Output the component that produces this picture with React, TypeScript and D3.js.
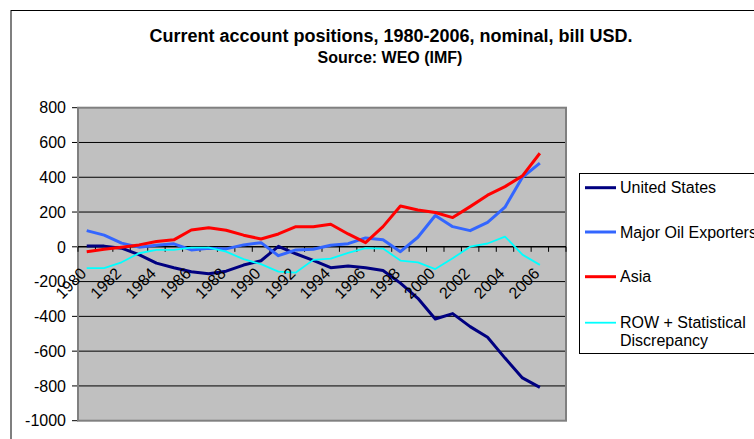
import React from 'react';
import * as d3 from 'd3';

// categories on the x axis (2007 is an empty slot, as in the original sheet)
const years = [
  '1980', '1981', '1982', '1983', '1984', '1985', '1986', '1987', '1988', '1989',
  '1990', '1991', '1992', '1993', '1994', '1995', '1996', '1997', '1998', '1999',
  '2000', '2001', '2002', '2003', '2004', '2005', '2006', '2007',
];
const yearLabels = ['1980', '1982', '1984', '1986', '1988', '1990', '1992', '1994', '1996', '1998', '2000', '2002', '2004', '2006'];
const yTicks = [800, 600, 400, 200, 0, -200, -400, -600, -800, -1000];

// current account balance, bill USD, 1980..2006
const unitedStates = [4, 4, -8, -45, -94, -120, -143, -155, -140, -105, -80, 3, -40, -78, -120, -110, -120, -136, -209, -296, -415, -384, -459, -520, -640, -754, -808];
const oilExporters = [93, 67, 21, -2, 9, 17, -18, -8, -12, 11, 24, -51, -18, -14, 9, 18, 51, 40, -28, 55, 180, 116, 93, 141, 228, 400, 481];
const asia = [-28, -14, -2, 11, 30, 40, 97, 110, 95, 67, 45, 74, 116, 116, 130, 74, 24, 116, 235, 212, 197, 168, 231, 297, 346, 408, 538];
const rowDiscrepancy = [-123, -123, -89, -37, -18, -18, -5, -5, -28, -71, -100, -143, -148, -75, -68, -35, -8, -10, -79, -90, -128, -66, 1, 19, 59, -45, -104];

const seriesNames = ['United States', 'Major Oil Exporters', 'Asia', 'ROW + Statistical|Discrepancy'];
const seriesColors = ['#000080', '#3366FF', '#FF0000', '#00FFFF'];
const seriesWidths = [3, 3, 3, 1.8];

const font = '"Liberation Sans", Arial, sans-serif';

export default function App() {
  const width = 754;
  const height = 439;
  const plot = { left: 78, right: 566, top: 107.7, bottom: 420.7 };

  const x = d3.scaleBand().domain(years).range([plot.left, plot.right]).padding(0);
  const y = d3.scaleLinear().domain([-1000, 800]).range([plot.bottom, plot.top]);
  const cx = (yr: string) => (x(yr) as number) + x.bandwidth() / 2;

  const series = [unitedStates, oilExporters, asia, rowDiscrepancy];
  const line = d3
    .line<number>()
    .x((_, i) => cx(years[i]))
    .y((d) => y(d));

  const y0 = y(0);

  return (
    <svg
      width={width}
      height={height}
      style={{ position: 'absolute', left: 0, top: 0, background: '#fff' }}
      fontFamily={font}
    >
      {/* outer chart frame, runs off the right and bottom */}
      <rect x={11} y={10.5} width={800} height={500} fill="#fff" stroke="#000" strokeWidth={1} />

      <text x={391} y={41.7} textAnchor="middle" fontSize={18} fontWeight="bold">
        Current account positions, 1980-2006, nominal, bill USD.
      </text>
      <text x={390} y={63} textAnchor="middle" fontSize={16} fontWeight="bold">
        Source: WEO (IMF)
      </text>

      {/* plot area */}
      <rect
        x={plot.left}
        y={plot.top}
        width={plot.right - plot.left}
        height={plot.bottom - plot.top}
        fill="#C0C0C0"
      />
      {yTicks.map((t) => (
        <g key={t}>
          {t !== 800 && t !== -1000 && t !== 0 && (
            <line x1={plot.left} x2={plot.right} y1={y(t)} y2={y(t)} stroke="#000" strokeWidth={1} />
          )}
          <line x1={plot.left - 6} x2={plot.left} y1={y(t)} y2={y(t)} stroke="#000" strokeWidth={1} />
          <text x={66} y={y(t)} dy="0.36em" textAnchor="end" fontSize={16}>
            {t}
          </text>
        </g>
      ))}
      <rect
        x={plot.left}
        y={plot.top}
        width={plot.right - plot.left}
        height={plot.bottom - plot.top}
        fill="none"
        stroke="#808080"
        strokeWidth={2}
      />

      {/* category axis at zero */}
      <line x1={plot.left} x2={plot.right} y1={y0} y2={y0} stroke="#000" strokeWidth={1.5} />
      {years.map((yr) => (
        <line
          key={yr}
          x1={(x(yr) as number)}
          x2={(x(yr) as number)}
          y1={y0}
          y2={y0 + 5}
          stroke="#000"
          strokeWidth={1}
        />
      ))}
      <line x1={plot.right} x2={plot.right} y1={y0} y2={y0 + 5} stroke="#000" strokeWidth={1} />

      {series.map((s, i) => (
        <path
          key={seriesNames[i]}
          d={line(s) || ''}
          fill="none"
          stroke={seriesColors[i]}
          strokeWidth={seriesWidths[i]}
          strokeLinejoin="round"
        />
      ))}

      {yearLabels.map((yr) => (
        <text
          key={yr}
          transform={`translate(${cx(yr) - 7.5},${y0 + 19.5}) rotate(-45)`}
          dy="0.72em"
          textAnchor="end"
          fontSize={16}
        >
          {yr}
        </text>
      ))}

      {/* legend */}
      <rect x={579.5} y={173.5} width={200} height={180} fill="#fff" stroke="#000" strokeWidth={1} />
      {seriesNames.map((name, i) => {
        const ly = [187.7, 232, 276.7, 322.7][i];
        const parts = name.split('|');
        return (
          <g key={name}>
            <line x1={585} x2={616} y1={ly} y2={ly} stroke={seriesColors[i]} strokeWidth={seriesWidths[i]} />
            {parts.map((p, j) => (
              <text key={p} x={620} y={ly + j * 18} dy="0.36em" fontSize={16}>
                {p}
              </text>
            ))}
          </g>
        );
      })}
    </svg>
  );
}
